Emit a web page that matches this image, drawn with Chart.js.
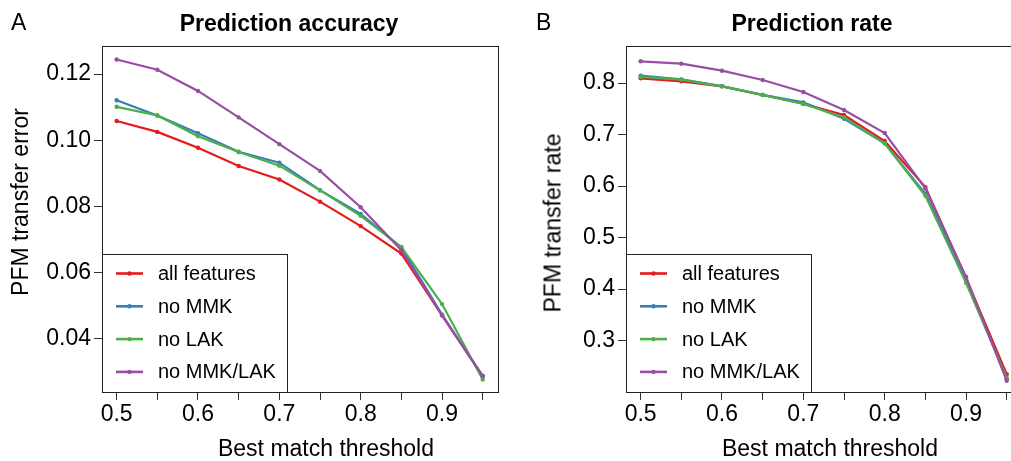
<!DOCTYPE html>
<html><head><meta charset="utf-8">
<script src="https://cdn.jsdelivr.net/npm/chart.js@4.4.0/dist/chart.umd.min.js"></script>
<style>
html,body{margin:0;padding:0;background:#fff;overflow:hidden;width:1011px;height:461px;}
#wrap{position:relative;width:1011px;height:461px;overflow:hidden;background:#fff;}
.pane{position:absolute;top:0;height:461px;}
#pA{left:0;width:505px;}
#pB{left:505px;width:530px;}
.lbl{position:absolute;font-family:"Liberation Sans",Arial,Helvetica,sans-serif;color:#000;white-space:nowrap;line-height:1;}
.ttl{font-weight:bold;font-size:23px;transform:translateX(-50%);top:12px;}
.ax{font-size:23px;}
.xt{transform:translateX(-50%);top:437px;}
.yt{transform:translate(-50%,-50%) rotate(-90deg);}
</style></head><body>
<div id="wrap">
<div class="pane" id="pA"><canvas id="cA" width="505" height="461"></canvas></div>
<div class="pane" id="pB"><canvas id="cB" width="530" height="461"></canvas></div>
<div class="lbl" style="left:11px;top:11px;font-size:23px">A</div>
<div class="lbl" style="left:536px;top:11px;font-size:23px">B</div>
<div class="lbl ttl" style="left:289px">Prediction accuracy</div>
<div class="lbl ttl" style="left:812px">Prediction rate</div>
<div class="lbl ax xt" style="left:326px">Best match threshold</div>
<div class="lbl ax xt" style="left:830px">Best match threshold</div>
<div class="lbl ax yt" style="left:20px;top:202px">PFM transfer error</div>
<div class="lbl ax yt" style="left:553px;top:223px">PFM transfer rate</div>
</div>
<script>
// ---- data ----
const thresholds = [0.5, 0.55, 0.6, 0.65, 0.7, 0.75, 0.8, 0.85, 0.9, 0.95];
const seriesNames = ["all features", "no MMK", "no LAK", "no MMK/LAK"];
const seriesColors = ["#E41A1C", "#377EB8", "#4DAF4A", "#984EA3"];

const errAll    = [0.1058, 0.1025, 0.0977, 0.0922, 0.0881, 0.0814, 0.0740, 0.0657, 0.0470, 0.0286];
const errNoMMK  = [0.1121, 0.1075, 0.1021, 0.0965, 0.0932, 0.0849, 0.0777, 0.0675, 0.0472, 0.0285];
const errNoLAK  = [0.1101, 0.1075, 0.1012, 0.0964, 0.0923, 0.0848, 0.0771, 0.0677, 0.0504, 0.0276];
const errNoBoth = [0.1244, 0.1213, 0.1149, 0.1069, 0.0988, 0.0907, 0.0797, 0.0667, 0.0470, 0.0287];

const rateAll    = [0.8091, 0.8032, 0.7935, 0.7767, 0.7598, 0.7379, 0.6874, 0.5980, 0.4210, 0.2350];
const rateNoMMK  = [0.8142, 0.8070, 0.7940, 0.7770, 0.7625, 0.7307, 0.6830, 0.5850, 0.4200, 0.2250];
const rateNoLAK  = [0.8117, 0.8065, 0.7935, 0.7770, 0.7592, 0.7333, 0.6829, 0.5812, 0.4122, 0.2280];
const rateNoBoth = [0.8421, 0.8375, 0.8239, 0.8058, 0.7825, 0.7476, 0.7029, 0.5955, 0.4239, 0.2223];

const xTicks = [0.5, 0.55, 0.6, 0.65, 0.7, 0.75, 0.8, 0.85, 0.9, 0.95];
const xLabelTicks = [0.5, 0.6, 0.7, 0.8, 0.9];
const errTicks = [0.04, 0.06, 0.08, 0.10, 0.12];
const rateTicks = [0.3, 0.4, 0.5, 0.6, 0.7, 0.8];

// ---- drawing ----
const FONT = '"Liberation Sans", Arial, Helvetica, sans-serif';

const boxLegend = {
  id: 'boxLegend',
  afterDatasetsDraw(chart) {
    const ctx = chart.ctx, a = chart.chartArea;
    ctx.save();
    ctx.strokeStyle = '#222';
    ctx.lineWidth = 1;
    ctx.strokeRect(Math.round(a.left) + 0.5, Math.round(a.top) + 0.5,
                   Math.round(a.right - a.left), Math.round(a.bottom - a.top));
    const w = 185, h = 138;
    const x0 = Math.round(a.left), y0 = Math.round(a.bottom) - h;
    ctx.fillStyle = '#fff';
    ctx.fillRect(x0 + 1, y0 + 1, w - 1, h - 1);
    ctx.strokeRect(x0 + 0.5, y0 + 0.5, w, h);
    ctx.font = '20px ' + FONT;
    ctx.textBaseline = 'middle';
    ctx.textAlign = 'left';
    chart.data.datasets.forEach((ds, i) => {
      const y = y0 + 19.5 + i * 32.8;
      ctx.strokeStyle = ds.borderColor;
      ctx.lineWidth = 2.6;
      ctx.beginPath();
      ctx.moveTo(x0 + 14, y);
      ctx.lineTo(x0 + 41, y);
      ctx.stroke();
      ctx.fillStyle = ds.borderColor;
      ctx.beginPath();
      ctx.arc(x0 + 27.5, y, 2.2, 0, Math.PI * 2);
      ctx.fill();
      ctx.fillStyle = '#000';
      ctx.fillText(ds.label, x0 + 56, y + 1);
    });
    ctx.restore();
  }
};

function makeChart(id, series, yMin, yMax, yTicks, yDec, xMin, xMax, leftW, padRight) {
  const datasets = series.map((vals, i) => ({
    label: seriesNames[i],
    data: thresholds.map((t, k) => ({x: t, y: vals[k]})),
    borderColor: seriesColors[i],
    backgroundColor: seriesColors[i],
    pointBackgroundColor: seriesColors[i],
    pointBorderWidth: 0,
    pointRadius: 2.2,
    borderWidth: 2.2,
    tension: 0,
    order: series.length - i
  }));
  return new Chart(document.getElementById(id), {
    type: 'line',
    data: {datasets},
    plugins: [boxLegend],
    options: {
      responsive: false,
      animation: false,
      events: [],
      layout: {padding: {top: 46, right: padRight, left: 0, bottom: 0}},
      plugins: {legend: {display: false}, tooltip: {enabled: false}, title: {display: false}},
      scales: {
        x: {
          type: 'linear', min: xMin, max: xMax,
          afterBuildTicks: s => { s.ticks = xTicks.map(v => ({value: v})); },
          afterFit: s => { s.height = 69; },
          border: {display: false},
          grid: {drawOnChartArea: false, drawTicks: true, tickLength: 8, color: '#333', lineWidth: 1},
          ticks: {
            autoSkip: false, maxRotation: 0, padding: 1, color: '#000',
            font: {family: FONT, size: 23},
            callback: v => xLabelTicks.some(t => Math.abs(t - v) < 1e-6) ? v.toFixed(1) : ''
          }
        },
        y: {
          type: 'linear', min: yMin, max: yMax,
          afterBuildTicks: s => { s.ticks = yTicks.map(v => ({value: v})); },
          afterFit: s => { s.width = leftW; },
          border: {display: false},
          grid: {drawOnChartArea: false, drawTicks: true, tickLength: 8, color: '#333', lineWidth: 1},
          ticks: {
            autoSkip: false, padding: 3, color: '#000',
            font: {family: FONT, size: 23},
            callback: v => v.toFixed(yDec)
          }
        }
      }
    }
  });
}

makeChart('cA', [errAll, errNoMMK, errNoLAK, errNoBoth], 0.0238, 0.1285, errTicks, 2, 0.482, 0.9688, 102, 7);
makeChart('cB', [rateAll, rateNoMMK, rateNoLAK, rateNoBoth], 0.2004, 0.8718, rateTicks, 1, 0.482, 0.9688, 121, 13);
</script>
</body></html>
